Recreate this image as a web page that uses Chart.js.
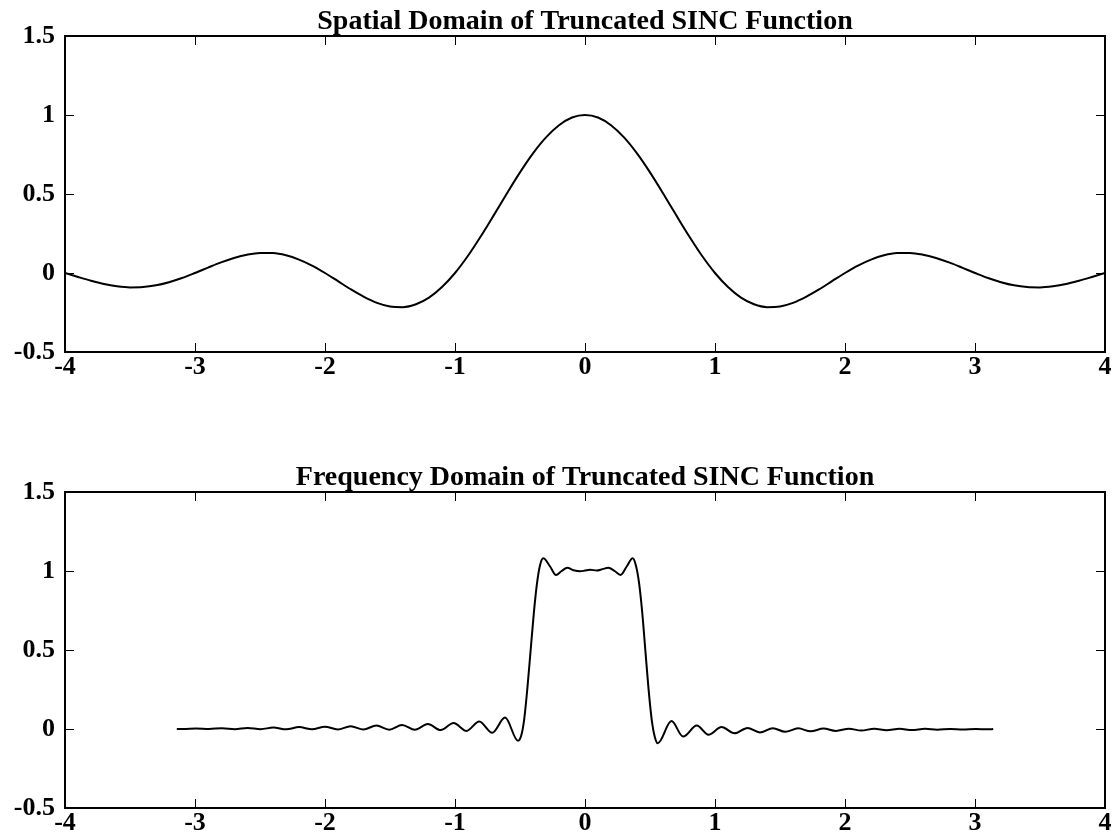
<!DOCTYPE html>
<html>
<head>
<meta charset="utf-8">
<script src="https://cdn.jsdelivr.net/npm/chart.js@4.4.1/dist/chart.umd.min.js"></script>
<style>
    html, body { margin: 0; padding: 0; background: #fff; }
    .wrap { position: absolute; left: 0; width: 1120px; }
    #topWrap { top: 0; height: 400px; }
    #bottomWrap { top: 456px; height: 384px; }
</style>
</head>
<body>
<div class="wrap" id="topWrap"><canvas id="spatialChart"></canvas></div>
<div class="wrap" id="bottomWrap"><canvas id="freqChart"></canvas></div>
<script>
// tick labels
const xTicks = [-4, -3, -2, -1, 0, 1, 2, 3, 4];
const yTicks = [-0.5, 0, 0.5, 1, 1.5];

// spatial domain
const spatialX = [
    -4.0, -3.9, -3.8, -3.7, -3.6, -3.5, -3.4, -3.3, -3.2, -3.1,
    -3.0, -2.9, -2.8, -2.7, -2.6, -2.5, -2.4, -2.3, -2.2, -2.1,
    -2.0, -1.9, -1.8, -1.7, -1.6, -1.5, -1.4, -1.3, -1.2, -1.1,
    -1.0, -0.9, -0.8, -0.7, -0.6, -0.5, -0.4, -0.3, -0.2, -0.1,
    0.0, 0.1, 0.2, 0.3, 0.4, 0.5, 0.6, 0.7, 0.8, 0.9,
    1.0, 1.1, 1.2, 1.3, 1.4, 1.5, 1.6, 1.7, 1.8, 1.9,
    2.0, 2.1, 2.2, 2.3, 2.4, 2.5, 2.6, 2.7, 2.8, 2.9,
    3.0, 3.1, 3.2, 3.3, 3.4, 3.5, 3.6, 3.7, 3.8, 3.9, 4.0
];
const spatialY = [
    0.0, -0.025, -0.049, -0.070, -0.084, -0.091, -0.089, -0.078, -0.058, -0.032,
    0.0, 0.034, 0.067, 0.095, 0.116, 0.127, 0.126, 0.112, 0.085, 0.047,
    0.0, -0.052, -0.104, -0.151, -0.189, -0.212, -0.216, -0.198, -0.156, -0.089,
    0.0, 0.109, 0.234, 0.368, 0.505, 0.637, 0.757, 0.858, 0.935, 0.984,
    1.0, 0.984, 0.935, 0.858, 0.757, 0.637, 0.505, 0.368, 0.234, 0.109,
    0.0, -0.089, -0.156, -0.198, -0.216, -0.212, -0.189, -0.151, -0.104, -0.052,
    0.0, 0.047, 0.085, 0.112, 0.126, 0.127, 0.116, 0.095, 0.067, 0.034,
    0.0, -0.032, -0.058, -0.078, -0.089, -0.091, -0.084, -0.070, -0.049, -0.025, 0.0
];

// frequency domain
const freqX = [
    -3.14, -3.09, -2.991, -2.892, -2.793, -2.694, -2.595, -2.496, -2.397, -2.298,
    -2.199, -2.1, -2.001, -1.902, -1.803, -1.704, -1.605, -1.506, -1.407, -1.308,
    -1.209, -1.11, -1.011, -0.912, -0.813, -0.714, -0.615, -0.515,
    -0.49, -0.468, -0.443, -0.418, -0.393, -0.368, -0.345, -0.321,
    -0.27, -0.223, -0.18, -0.136, -0.088, -0.038, 0.0, 0.04, 0.09, 0.135,
    0.179, 0.228, 0.274, 0.322, 0.367,
    0.39, 0.415, 0.44, 0.464, 0.488, 0.513, 0.537, 0.56,
    0.665, 0.755, 0.86, 0.95, 1.05, 1.15, 1.25, 1.345, 1.445, 1.54,
    1.64, 1.735, 1.835, 1.93, 2.03, 2.125, 2.225, 2.32, 2.42, 2.515,
    2.615, 2.71, 2.81, 2.905, 3.005, 3.1, 3.14
];
const freqY = [
    0.0, 0.0, 0.003, 0.0, 0.005, -0.001, 0.007, -0.001, 0.009, -0.002,
    0.012, -0.002, 0.015, -0.003, 0.018, -0.003, 0.022, -0.004, 0.026, -0.005,
    0.031, -0.007, 0.038, -0.012, 0.048, -0.024, 0.072, -0.075,
    -0.04, 0.06, 0.26, 0.5, 0.74, 0.93, 1.04, 1.08,
    1.03, 0.975, 1.0, 1.02, 1.005, 0.998, 1.003, 1.008, 1.003, 1.012,
    1.02, 1.0, 0.975, 1.03, 1.08,
    1.04, 0.93, 0.74, 0.5, 0.26, 0.06, -0.05, -0.09,
    0.05, -0.048, 0.022, -0.036, 0.012, -0.027, 0.007, -0.022, 0.005, -0.018,
    0.004, -0.015, 0.003, -0.012, 0.002, -0.01, 0.002, -0.008, 0.001, -0.006,
    0.001, -0.004, 0.0, -0.003, 0.0, -0.002, 0.0
];

const FONT = "'Liberation Serif', 'Times New Roman', serif";

// box round the plot area with inward tick marks, and the title sitting on the box
const frameTicks = {
    id: "frameTicks",
    afterDatasetsDraw(chart, args, opts) {
        const { ctx, chartArea: a, scales } = chart;
        const len = 9;
        ctx.save();
        ctx.strokeStyle = "#000";
        ctx.lineWidth = 1;
        ctx.beginPath();
        scales.x.ticks.forEach((t) => {
            const px = Math.round(scales.x.getPixelForValue(t.value)) + 0.5;
            ctx.moveTo(px, a.bottom); ctx.lineTo(px, a.bottom - len);
            ctx.moveTo(px, a.top); ctx.lineTo(px, a.top + len);
        });
        scales.y.ticks.forEach((t) => {
            const py = Math.round(scales.y.getPixelForValue(t.value)) + 0.5;
            ctx.moveTo(a.left, py); ctx.lineTo(a.left + len, py);
            ctx.moveTo(a.right, py); ctx.lineTo(a.right - len, py);
        });
        ctx.stroke();
        ctx.lineWidth = 2;
        ctx.strokeRect(a.left, a.top, a.right - a.left, a.bottom - a.top);

        ctx.fillStyle = "#000";
        ctx.font = "bold 28px " + FONT;
        ctx.textAlign = "center";
        ctx.textBaseline = "alphabetic";
        ctx.fillText(opts.text, (a.left + a.right) / 2, a.top - 7);
        ctx.restore();
    },
};

function makeChart(canvasId, title, xs, ys, xAxisHeight) {
    const points = xs.map((x, i) => ({ x: x, y: ys[i] }));
    return new Chart(document.getElementById(canvasId), {
        type: "line",
        data: {
            datasets: [
                {
                    data: points,
                    borderColor: "#000",
                    borderWidth: 2,
                    pointRadius: 0,
                    fill: false,
                    cubicInterpolationMode: "monotone",
                },
            ],
        },
        options: {
            responsive: true,
            maintainAspectRatio: false,
            animation: false,
            layout: { padding: { left: 0, right: 15, top: 36, bottom: 0 } },
            plugins: {
                legend: { display: false },
                tooltip: { enabled: false },
                title: { display: false },
                frameTicks: { text: title },
            },
            scales: {
                x: {
                    type: "linear",
                    min: -4,
                    max: 4,
                    afterBuildTicks: (scale) => {
                        scale.ticks = xTicks.map((v) => ({ value: v }));
                    },
                    afterFit: (scale) => {
                        scale.height = xAxisHeight;
                    },
                    grid: { display: false, drawTicks: false },
                    border: { display: false },
                    ticks: {
                        color: "#000",
                        padding: 0,
                        maxRotation: 0,
                        font: { family: FONT, size: 26, weight: "bold" },
                        callback: (v) => String(v),
                    },
                },
                y: {
                    type: "linear",
                    min: -0.5,
                    max: 1.5,
                    afterBuildTicks: (scale) => {
                        scale.ticks = yTicks.map((v) => ({ value: v }));
                    },
                    afterFit: (scale) => {
                        scale.width = 65;
                    },
                    grid: { display: false, drawTicks: false },
                    border: { display: false },
                    ticks: {
                        color: "#000",
                        padding: 10,
                        font: { family: FONT, size: 26, weight: "bold" },
                        callback: (v) => String(v),
                    },
                },
            },
        },
        plugins: [frameTicks],
    });
}

makeChart("spatialChart", "Spatial Domain of Truncated SINC Function", spatialX, spatialY, 48);
makeChart("freqChart", "Frequency Domain of Truncated SINC Function", freqX, freqY, 32);
</script>
</body>
</html>
